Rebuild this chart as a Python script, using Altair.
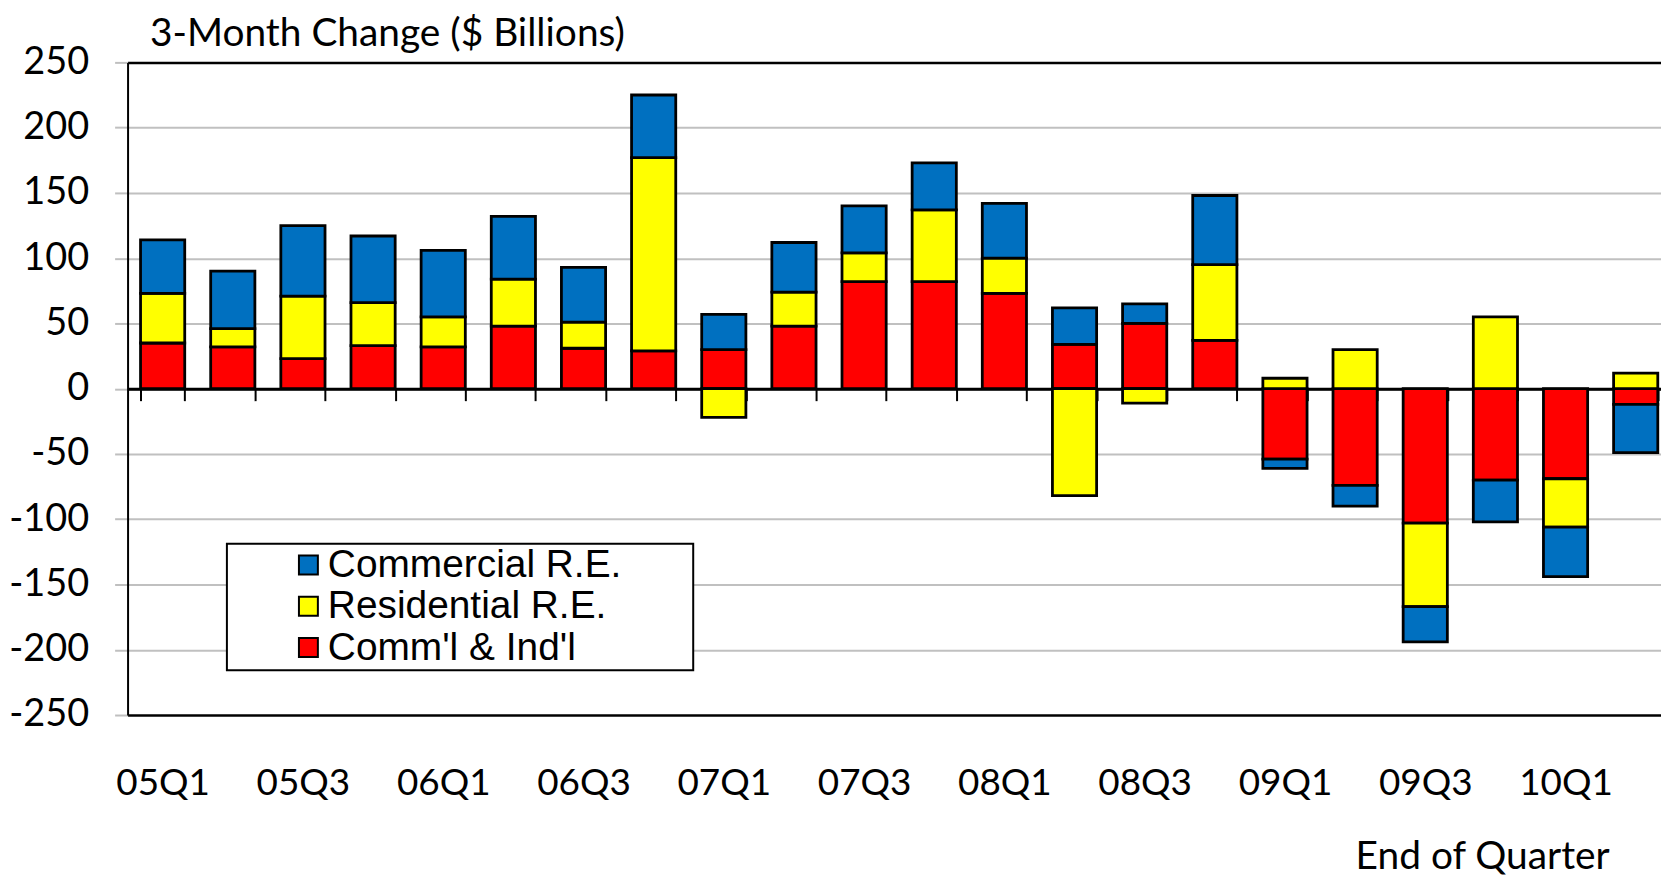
import altair as alt
import pandas as pd

quarters = ["05Q1", "05Q2", "05Q3", "05Q4", "06Q1", "06Q2", "06Q3", "06Q4",
            "07Q1", "07Q2", "07Q3", "07Q4", "08Q1", "08Q2", "08Q3", "08Q4",
            "09Q1", "09Q2", "09Q3", "09Q4", "10Q1", "10Q2"]
series_names = ["Commercial R.E.", "Residential R.E.", "Comm'l & Ind'l"]
series_colors = ["#0070C0", "#FFFF00", "#FF0000"]
commercial = [41, 44, 54, 51, 51, 48, 42, 48, 27, 38, 36, 36, 42, 28, 15, 53,
              -7, -16, -27, -32, -38, -37]
residential = [38, 14, 48, 33, 23, 36, 20, 148, -22, 26, 22, 55, 27, -82, -11, 58,
               8, 30, -64, 55, -37, 12]
comm_ind = [35, 32, 23, 33, 32, 48, 31, 29, 30, 48, 82, 82, 73, 34, 50, 37,
            -54, -74, -103, -70, -69, -12]
y_ticks = [-250, -200, -150, -100, -50, 0, 50, 100, 150, 200, 250]
y_frame = [-250, 250]

rows = []
for i, q in enumerate(quarters):
    rows.append({"quarter": q, "series": "Comm'l & Ind'l", "value": comm_ind[i], "stack": 0})
    rows.append({"quarter": q, "series": "Residential R.E.", "value": residential[i], "stack": 1})
    rows.append({"quarter": q, "series": "Commercial R.E.", "value": commercial[i], "stack": 2})
df = pd.DataFrame(rows)

W = 1539
H = 655
STEP = 70.4
FONT = "Lato"

# square legend swatch; the trailing zero-length segment widens the legend frame without drawing
SWATCH = "M-1,-1H1V1H-1ZM40,0L40,0"

edge_test = f"datum.value === {y_frame[0]} || datum.value === {y_frame[1]}"

x_enc = alt.X(
    "quarter:N",
    sort=quarters,
    scale=alt.Scale(domain=quarters, range=[0, STEP * len(quarters)],
                    paddingInner=0.37, paddingOuter=0.185),
    axis=alt.Axis(
        orient="bottom", offset=-H / 2,
        domain=True, domainColor="black", domainWidth=3,
        ticks=True, tickBand="extent", tickSize=12, tickColor="black", tickWidth=2,
        grid=False,
        labelExpr="(indexof(datum.label,'Q1')>=0 || indexof(datum.label,'Q3')>=0) ? datum.label : ''",
        labelAngle=0, labelFont=FONT, labelFontSize=37, labelColor="black",
        labelBaseline="alphabetic", labelPadding=395, labelOverlap=False,
        title="End of Quarter", titleFont=FONT, titleFontSize=39,
        titleFontWeight="normal", titleColor="black",
        titleX=1359.5, titleY=482, titleAlign="center", titleBaseline="alphabetic",
    ),
)

y_axis = alt.Axis(
    values=y_ticks, labelExpr="'' + datum.value",
    labelFont=FONT, labelFontSize=38, labelColor="black", labelPadding=26,
    tickSize=13, tickColor="#bfbfbf", tickWidth=2,
    domainColor="black", domainWidth=2,
    grid=True,
    gridColor={"condition": {"test": edge_test, "value": "black"}, "value": "#c0c0c0"},
    gridWidth={"condition": {"test": edge_test, "value": 2.5}, "value": 2},
    title="3-Month Change ($ Billions)", titleAngle=0,
    titleX=22, titleY=-17, titleAlign="left", titleBaseline="alphabetic",
    titleFont=FONT, titleFontSize=39, titleFontWeight="normal", titleColor="black",
)

y_enc = alt.Y(
    "value:Q",
    stack="zero",
    scale=alt.Scale(domain=y_frame, nice=False, zero=False),
    axis=y_axis,
)

color_enc = alt.Color(
    "series:N",
    scale=alt.Scale(domain=series_names, range=series_colors),
    legend=alt.Legend(
        title=None, orient="none", legendX=99.7, legendY=483, direction="vertical",
        symbolType=SWATCH, symbolSize=361, symbolStrokeColor="black",
        symbolStrokeWidth=2, symbolOpacity=1, symbolOffset=60.3, labelOffset=0,
        labelFont="Liberation Sans", labelFontSize=39, labelColor="black",
        labelLimit=1000, rowPadding=1.4, padding=2,
        strokeColor="black", fillColor="white",
    ),
)

chart = alt.Chart(df).mark_bar(stroke="black", strokeWidth=2.8).encode(
    x=x_enc, y=y_enc, color=color_enc, order=alt.Order("stack:Q"),
).properties(
    width=W, height=H,
    autosize=alt.AutoSizeParams(type="none"),
    padding={"left": 120, "top": 53, "right": 0, "bottom": 162},
    background="white",
).configure_view(stroke="transparent", strokeWidth=0).configure_legend(strokeWidth=2)

chart.save("out.html", embed_options={"renderer": "svg", "actions": False})
